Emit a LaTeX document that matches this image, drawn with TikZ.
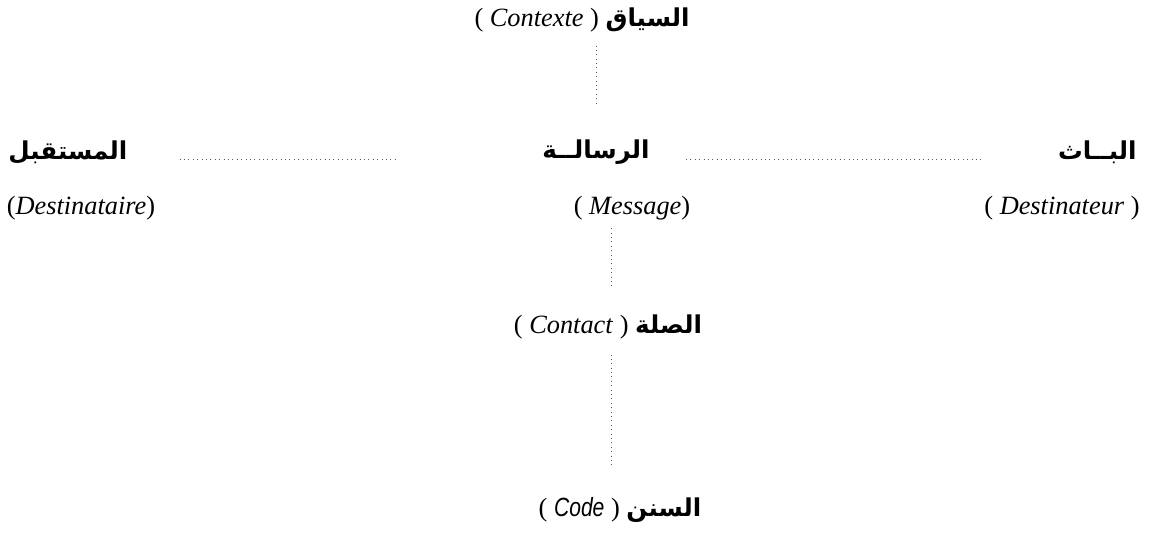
\documentclass[tikz,border=0pt]{standalone}
\usepackage{fontspec}
\usepackage{tikz}
\setmainfont{Liberation Serif}
\newfontfamily\arabicfont[Script=Arabic]{DejaVu Sans}
\newfontfamily\codefont{Liberation Sans}
\TeXXeTstate=1
\newcommand{\artext}[1]{{\arabicfont\bfseries\fontsize{14}{16}\selectfont\beginR #1\endR}}
\newcommand{\frtext}[1]{\textit{#1}}

\tikzset{
	term/.style={inner sep=0pt, font=\fontsize{15}{18}\selectfont},
	link/.style={dotted, line width=0.5pt, gray!70!black}
}

\begin{document}
\begin{tikzpicture}[x=0.02cm, y=-0.02cm]
	\useasboundingbox (0,0) rectangle (1159,535);
	
	\node[term] (context) at (582,20) {( \frtext{Contexte} ) \artext{السياق}};
	
	\node[term, anchor=west] (receiver) at (8,152) {\artext{المستقبل}};
	\node[term] (message) at (596,152) {\artext{الرسالــة}};
	\node[term, anchor=east] (sender) at (1137,152) {\artext{البــاث}};
	
	\node[term] (destinataire) at (81,208) {(\frtext{Destinataire})};
	\node[term] (messagefr) at (632,208) {( \frtext{Message})};
	\node[term] (destinateur) at (1062,208) {( \frtext{Destinateur} )};
	
	\node[term] (contact) at (608,327) {( \frtext{Contact} ) \artext{الصلة}};
	\node[term] (code) at (620,510) {( {\codefont\itshape\scalebox{0.8}[1]{Code}} ) \artext{السنن}};
	
	% dotted links
	\draw[link, shorten <=0.26cm, shorten >=0.66cm] (context.south -| message.north) -- (message.north);
	\draw[link, shorten <=1.04cm, shorten >=2.86cm] ([yshift=-0.14cm]receiver.east) -- ([yshift=-0.14cm]message.west);
	\draw[link, shorten <=0.72cm, shorten >=1.48cm] ([yshift=-0.14cm]message.east) -- ([yshift=-0.14cm]sender.west);
	\draw[link, shorten <=0.16cm, shorten >=0.54cm] ([xshift=0.06cm]messagefr.south -| contact.north) -- ([xshift=0.06cm]contact.north);
	\draw[link, shorten <=0.3cm, shorten >=0.6cm] ([xshift=0.06cm]contact.south) -- ([xshift=0.06cm]contact.south |- code.north);
\end{tikzpicture}
\end{document}
